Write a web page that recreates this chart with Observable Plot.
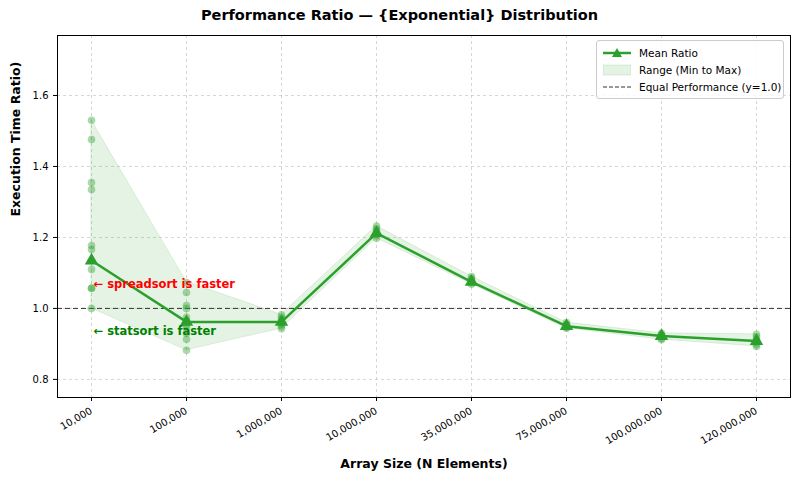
<!DOCTYPE html>
<html><head><meta charset="utf-8">
<script src="https://cdn.jsdelivr.net/npm/d3@7"></script>
<script src="https://cdn.jsdelivr.net/npm/@observablehq/plot@0.6"></script>
<style>
body{margin:0;background:#fff;font-family:"DejaVu Sans",sans-serif;}
#wrap{position:relative;width:799px;height:483px;}
#title{height:28px;line-height:30px;text-align:center;font-weight:bold;font-size:14.5px;}
#legend{position:absolute;left:596px;top:40px;width:188px;border:1px solid #ccc;border-radius:3px;background:rgba(255,255,255,0.85);font-size:10.5px;padding:3px 0 3px 6px;box-sizing:border-box}
#legend div{display:flex;align-items:center;height:17px}
#legend svg{margin-right:8px}
</style></head><body>
<div id="wrap"><div id="title">Performance Ratio — {Exponential} Distribution</div><div id="chart"></div>
<div id="legend">
<div><svg width="28" height="12"><line x1="0" y1="6" x2="28" y2="6" stroke="#2ca02c" stroke-width="2.5"/><path d="M14,1 L19,10 L9,10 Z" fill="#2ca02c"/></svg>Mean Ratio</div>
<div><svg width="28" height="12"><rect x="0" y="1" width="28" height="10" fill="#2ca02c" fill-opacity="0.13" stroke="#2ca02c" stroke-opacity="0.15"/></svg>Range (Min to Max)</div>
<div><svg width="28" height="12"><line x1="0" y1="6" x2="28" y2="6" stroke="#333" stroke-dasharray="4,2" stroke-width="1"/></svg>Equal Performance (y=1.0)</div>
</div></div>
<script>
const sizes = ["10,000","100,000","1,000,000","10,000,000","35,000,000","75,000,000","100,000,000","120,000,000"];
const meanRatio = [1.135, 0.962, 0.962, 1.212, 1.075, 0.950, 0.922, 0.908];
const minRatio = [1.0, 0.882, 0.943, 1.198, 1.068, 0.944, 0.912, 0.893];
const maxRatio = [1.530, 1.075, 0.982, 1.232, 1.090, 0.960, 0.930, 0.927];
const samples = [
 [1.530,1.476,1.355,1.335,1.177,1.166,1.110,1.057,1.057,1.0],
 [1.073,1.045,1.008,1.000,0.975,0.965,0.955,0.947,0.930,0.913,0.882],
 [0.982,0.975,0.968,0.960,0.955,0.950,0.943],
 [1.232,1.225,1.218,1.210,1.205,1.198],
 [1.090,1.085,1.078,1.072,1.068],
 [0.960,0.955,0.950,0.946,0.944],
 [0.930,0.925,0.920,0.915,0.912],
 [0.927,0.920,0.912,0.905,0.898,0.893]
];
const summary = sizes.map((s,i)=>({s,mean:meanRatio[i],min:minRatio[i],max:maxRatio[i]}));
const pts = samples.flatMap((arr,i)=>arr.map(v=>({s:sizes[i],v})));
const G="#2ca02c";
const chart = Plot.plot({
 width:799,height:455,marginTop:7,marginBottom:86,marginLeft:57,marginRight:9,
 style:{fontFamily:"DejaVu Sans",fontSize:"10px",color:"#000"},
 x:{type:"point",domain:sizes,padding:0.32,label:null,tickRotate:-30,tickSize:4},
 y:{domain:[0.749,1.769],ticks:[0.8,1.0,1.2,1.4,1.6],tickFormat:d3.format(".1f"),label:null,tickSize:4},
 marks:[
  Plot.gridX(sizes,{x:d=>d,stroke:"#bbb",strokeDasharray:"3,3",strokeOpacity:0.6}),
  Plot.gridY([0.8,1.0,1.2,1.4,1.6],{stroke:"#bbb",strokeDasharray:"3,3",strokeOpacity:0.6}),
  Plot.areaY(summary,{x:"s",y1:"min",y2:"max",fill:G,fillOpacity:0.13,stroke:G,strokeOpacity:0.12}),
  Plot.ruleY([1],{stroke:"#333",strokeDasharray:"5,3",strokeWidth:1}),
  Plot.dot(pts,{x:"s",y:"v",r:3.8,fill:G,fillOpacity:0.4}),
  Plot.line(summary,{x:"s",y:"mean",stroke:G,strokeWidth:2.5}),
  Plot.dot(summary,{x:"s",y:"mean",symbol:"triangle",r:5,fill:G}),
  Plot.text([{s:sizes[0],y:1.068,t:"← spreadsort is faster"}],{x:"s",y:"y",text:"t",dx:2,textAnchor:"start",fill:"red",fontWeight:"bold",fontSize:11.5}),
  Plot.text([{s:sizes[0],y:0.935,t:"← statsort is faster"}],{x:"s",y:"y",text:"t",dx:2,textAnchor:"start",fill:"green",fontWeight:"bold",fontSize:11.5}),
  Plot.frame({stroke:"#000"}),
  Plot.text(["Array Size (N Elements)"],{frameAnchor:"bottom",dy:70,text:d=>d,fontWeight:"bold",fontSize:12.5}),
  Plot.text(["Execution Time Ratio)"],{frameAnchor:"left",dx:-42,rotate:-90,text:d=>d,fontWeight:"bold",fontSize:12.5})
 ]
});
document.getElementById("chart").append(chart);
</script></body></html>
